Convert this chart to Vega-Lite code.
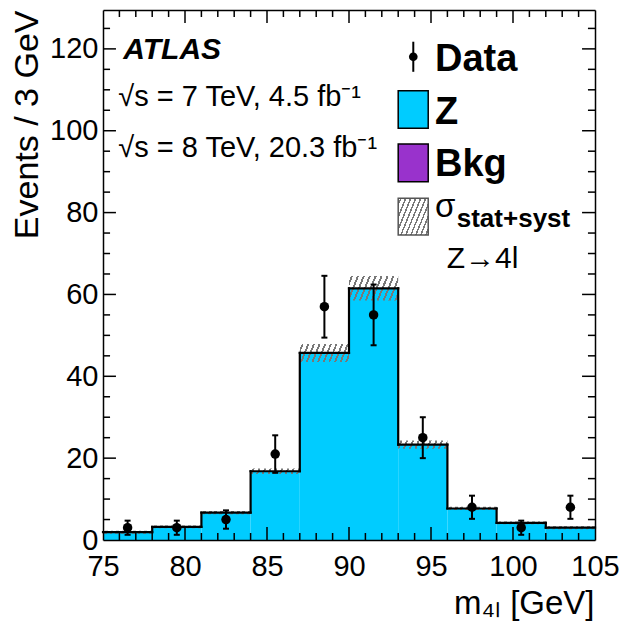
{
  "$schema": "https://vega.github.io/schema/vega-lite/v6.json",
  "autosize": {"type": "none"},
  "padding": {"left": 103, "top": 10, "right": 26, "bottom": 94},
  "width": 492,
  "height": 530,
  "config": {"font": "Liberation Sans", "view": {"stroke": null}},
  "datasets": {
    "hist": [
      {"lo": 75, "hi": 78, "z": 1.9, "ulo": 1.55, "uhi": 2.25},
      {"lo": 78, "hi": 81, "z": 3.2, "ulo": 2.85, "uhi": 3.55},
      {"lo": 81, "hi": 84, "z": 6.7, "ulo": 6.3, "uhi": 7.1},
      {"lo": 84, "hi": 87, "z": 16.8, "ulo": 16.1, "uhi": 17.5},
      {"lo": 87, "hi": 90, "z": 45.7, "ulo": 43.5, "uhi": 47.9},
      {"lo": 90, "hi": 93, "z": 61.5, "ulo": 58.5, "uhi": 64.5},
      {"lo": 93, "hi": 96, "z": 23.3, "ulo": 22.3, "uhi": 24.3},
      {"lo": 96, "hi": 99, "z": 7.7, "ulo": 7.3, "uhi": 8.1},
      {"lo": 99, "hi": 102, "z": 4.2, "ulo": 3.85, "uhi": 4.55},
      {"lo": 102, "hi": 105, "z": 3.0, "ulo": 2.65, "uhi": 3.35}
    ],
    "obs": [
      {"m": 76.5, "n": 3, "elo": 1.27, "ehi": 4.73},
      {"m": 79.5, "n": 3, "elo": 1.27, "ehi": 4.73},
      {"m": 82.5, "n": 5, "elo": 2.76, "ehi": 7.24},
      {"m": 85.5, "n": 21, "elo": 16.42, "ehi": 25.58},
      {"m": 88.5, "n": 57, "elo": 49.45, "ehi": 64.55},
      {"m": 91.5, "n": 55, "elo": 47.58, "ehi": 62.42},
      {"m": 94.5, "n": 25, "elo": 20.0, "ehi": 30.0},
      {"m": 97.5, "n": 8, "elo": 5.17, "ehi": 10.83},
      {"m": 100.5, "n": 3, "elo": 1.27, "ehi": 4.73},
      {"m": 103.5, "n": 8, "elo": 5.17, "ehi": 10.83}
    ],
    "xmajor": [{"v": 80}, {"v": 85}, {"v": 90}, {"v": 95}, {"v": 100}],
    "xminor": [{"v": 76}, {"v": 77}, {"v": 78}, {"v": 79}, {"v": 81}, {"v": 82}, {"v": 83}, {"v": 84}, {"v": 86}, {"v": 87}, {"v": 88}, {"v": 89},
               {"v": 91}, {"v": 92}, {"v": 93}, {"v": 94}, {"v": 96}, {"v": 97}, {"v": 98}, {"v": 99}, {"v": 101}, {"v": 102}, {"v": 103}, {"v": 104}],
    "ymajor": [{"v": 20}, {"v": 40}, {"v": 60}, {"v": 80}, {"v": 100}, {"v": 120}],
    "yminor": [{"v": 5}, {"v": 10}, {"v": 15}, {"v": 25}, {"v": 30}, {"v": 35}, {"v": 45}, {"v": 50}, {"v": 55}, {"v": 65}, {"v": 70}, {"v": 75},
               {"v": 85}, {"v": 90}, {"v": 95}, {"v": 105}, {"v": 110}, {"v": 115}, {"v": 125}]
  },
  "resolve": {"axis": {"x": "independent", "y": "independent"}},
  "layer": [
    {
      "data": {"name": "hist"},
      "mark": {"type": "rect", "fill": "#00CCFF", "strokeWidth": 0},
      "encoding": {
        "x": {"field": "lo", "type": "quantitative",
              "scale": {"domain": [75, 105], "nice": false, "zero": false},
              "axis": {"orient": "bottom", "values": [75, 80, 85, 90, 95, 100, 105], "ticks": false, "domain": true, "domainColor": "black", "domainWidth": 1.5, "grid": false,
                       "labelFontSize": 29, "labelPadding": 12, "labelColor": "black", "labelFlush": false, "labelOverlap": false,
                       "title": "m₄ₗ [GeV]", "titleFontSize": 33, "titleFontWeight": "normal", "titleColor": "black",
                       "titleAlign": "right", "titleX": 491, "titleY": 73, "titleBaseline": "alphabetic", "zindex": 3}},
        "x2": {"field": "hi"},
        "y": {"field": "z", "type": "quantitative",
              "scale": {"domain": [0, 129.5], "nice": false},
              "axis": {"orient": "left", "values": [0, 20, 40, 60, 80, 100, 120], "ticks": false, "domain": true, "domainColor": "black", "domainWidth": 1.5, "grid": false,
                       "labelFontSize": 29, "labelPadding": 5, "labelColor": "black", "labelFlush": false, "labelOverlap": false,
                       "title": "Events / 3 GeV", "titleFontSize": 34, "titleFontWeight": "normal", "titleColor": "black",
                       "titleAngle": -90, "titleAlign": "right", "titleX": -66, "titleY": 0, "titleBaseline": "alphabetic", "zindex": 3}},
        "y2": {"datum": 0}
      }
    },
    {
      "data": {"name": "hist"},
      "transform": [{"filter": "datum.lo < 84 || datum.lo >= 96"}],
      "mark": {"type": "rect", "strokeWidth": 0, "fill": {"gradient": "linear", "x1": 0, "y1": 0, "x2": 1.0216, "y2": 0.02245, "stops": [
        {"offset": 0, "color": "rgba(120,120,120,0)"},
        {"offset": 0.04, "color": "rgba(120,120,120,0)"}, {"offset": 0.04, "color": "#787878"}, {"offset": 0.095, "color": "#787878"}, {"offset": 0.095, "color": "rgba(120,120,120,0)"},
        {"offset": 0.151, "color": "rgba(120,120,120,0)"}, {"offset": 0.151, "color": "#787878"}, {"offset": 0.206, "color": "#787878"}, {"offset": 0.206, "color": "rgba(120,120,120,0)"},
        {"offset": 0.262, "color": "rgba(120,120,120,0)"}, {"offset": 0.262, "color": "#787878"}, {"offset": 0.317, "color": "#787878"}, {"offset": 0.317, "color": "rgba(120,120,120,0)"},
        {"offset": 0.373, "color": "rgba(120,120,120,0)"}, {"offset": 0.373, "color": "#787878"}, {"offset": 0.428, "color": "#787878"}, {"offset": 0.428, "color": "rgba(120,120,120,0)"},
        {"offset": 0.484, "color": "rgba(120,120,120,0)"}, {"offset": 0.484, "color": "#787878"}, {"offset": 0.539, "color": "#787878"}, {"offset": 0.539, "color": "rgba(120,120,120,0)"},
        {"offset": 0.596, "color": "rgba(120,120,120,0)"}, {"offset": 0.596, "color": "#787878"}, {"offset": 0.651, "color": "#787878"}, {"offset": 0.651, "color": "rgba(120,120,120,0)"},
        {"offset": 0.707, "color": "rgba(120,120,120,0)"}, {"offset": 0.707, "color": "#787878"}, {"offset": 0.762, "color": "#787878"}, {"offset": 0.762, "color": "rgba(120,120,120,0)"},
        {"offset": 0.818, "color": "rgba(120,120,120,0)"}, {"offset": 0.818, "color": "#787878"}, {"offset": 0.873, "color": "#787878"}, {"offset": 0.873, "color": "rgba(120,120,120,0)"},
        {"offset": 0.929, "color": "rgba(120,120,120,0)"}, {"offset": 0.929, "color": "#787878"}, {"offset": 0.984, "color": "#787878"}, {"offset": 0.984, "color": "rgba(120,120,120,0)"},
        {"offset": 1, "color": "rgba(120,120,120,0)"}]}},
      "encoding": {
        "x": {"field": "lo", "type": "quantitative", "axis": null},
        "x2": {"field": "hi"},
        "y": {"field": "ulo", "type": "quantitative", "axis": null},
        "y2": {"field": "uhi"}
      }
    },
    {
      "data": {"name": "hist"},
      "transform": [{"filter": "datum.lo == 84"}],
      "mark": {"type": "rect", "strokeWidth": 0, "fill": {"gradient": "linear", "x1": 0, "y1": 0, "x2": 1.043, "y2": 0.0483, "stops": [
        {"offset": 0, "color": "rgba(120,120,120,0)"},
        {"offset": 0.04, "color": "rgba(120,120,120,0)"}, {"offset": 0.04, "color": "#787878"}, {"offset": 0.08, "color": "#787878"}, {"offset": 0.08, "color": "rgba(120,120,120,0)"},
        {"offset": 0.151, "color": "rgba(120,120,120,0)"}, {"offset": 0.151, "color": "#787878"}, {"offset": 0.191, "color": "#787878"}, {"offset": 0.191, "color": "rgba(120,120,120,0)"},
        {"offset": 0.262, "color": "rgba(120,120,120,0)"}, {"offset": 0.262, "color": "#787878"}, {"offset": 0.302, "color": "#787878"}, {"offset": 0.302, "color": "rgba(120,120,120,0)"},
        {"offset": 0.373, "color": "rgba(120,120,120,0)"}, {"offset": 0.373, "color": "#787878"}, {"offset": 0.413, "color": "#787878"}, {"offset": 0.413, "color": "rgba(120,120,120,0)"},
        {"offset": 0.484, "color": "rgba(120,120,120,0)"}, {"offset": 0.484, "color": "#787878"}, {"offset": 0.524, "color": "#787878"}, {"offset": 0.524, "color": "rgba(120,120,120,0)"},
        {"offset": 0.596, "color": "rgba(120,120,120,0)"}, {"offset": 0.596, "color": "#787878"}, {"offset": 0.636, "color": "#787878"}, {"offset": 0.636, "color": "rgba(120,120,120,0)"},
        {"offset": 0.707, "color": "rgba(120,120,120,0)"}, {"offset": 0.707, "color": "#787878"}, {"offset": 0.747, "color": "#787878"}, {"offset": 0.747, "color": "rgba(120,120,120,0)"},
        {"offset": 0.818, "color": "rgba(120,120,120,0)"}, {"offset": 0.818, "color": "#787878"}, {"offset": 0.858, "color": "#787878"}, {"offset": 0.858, "color": "rgba(120,120,120,0)"},
        {"offset": 0.929, "color": "rgba(120,120,120,0)"}, {"offset": 0.929, "color": "#787878"}, {"offset": 0.969, "color": "#787878"}, {"offset": 0.969, "color": "rgba(120,120,120,0)"},
        {"offset": 1, "color": "rgba(120,120,120,0)"}]}},
      "encoding": {
        "x": {"field": "lo", "type": "quantitative", "axis": null},
        "x2": {"field": "hi"},
        "y": {"field": "ulo", "type": "quantitative", "axis": null},
        "y2": {"field": "uhi"}
      }
    },
    {
      "data": {"name": "hist"},
      "transform": [{"filter": "datum.lo == 87"}],
      "mark": {"type": "rect", "strokeWidth": 0, "fill": {"gradient": "linear", "x1": 0, "y1": 0, "x2": 1.121, "y2": 0.164, "stops": [
        {"offset": 0, "color": "rgba(120,120,120,0)"},
        {"offset": 0.035, "color": "rgba(120,120,120,0)"}, {"offset": 0.035, "color": "#787878"}, {"offset": 0.069, "color": "#787878"}, {"offset": 0.069, "color": "rgba(120,120,120,0)"},
        {"offset": 0.135, "color": "rgba(120,120,120,0)"}, {"offset": 0.135, "color": "#787878"}, {"offset": 0.169, "color": "#787878"}, {"offset": 0.169, "color": "rgba(120,120,120,0)"},
        {"offset": 0.235, "color": "rgba(120,120,120,0)"}, {"offset": 0.235, "color": "#787878"}, {"offset": 0.269, "color": "#787878"}, {"offset": 0.269, "color": "rgba(120,120,120,0)"},
        {"offset": 0.335, "color": "rgba(120,120,120,0)"}, {"offset": 0.335, "color": "#787878"}, {"offset": 0.369, "color": "#787878"}, {"offset": 0.369, "color": "rgba(120,120,120,0)"},
        {"offset": 0.435, "color": "rgba(120,120,120,0)"}, {"offset": 0.435, "color": "#787878"}, {"offset": 0.469, "color": "#787878"}, {"offset": 0.469, "color": "rgba(120,120,120,0)"},
        {"offset": 0.535, "color": "rgba(120,120,120,0)"}, {"offset": 0.535, "color": "#787878"}, {"offset": 0.569, "color": "#787878"}, {"offset": 0.569, "color": "rgba(120,120,120,0)"},
        {"offset": 0.635, "color": "rgba(120,120,120,0)"}, {"offset": 0.635, "color": "#787878"}, {"offset": 0.669, "color": "#787878"}, {"offset": 0.669, "color": "rgba(120,120,120,0)"},
        {"offset": 0.735, "color": "rgba(120,120,120,0)"}, {"offset": 0.735, "color": "#787878"}, {"offset": 0.769, "color": "#787878"}, {"offset": 0.769, "color": "rgba(120,120,120,0)"},
        {"offset": 0.835, "color": "rgba(120,120,120,0)"}, {"offset": 0.835, "color": "#787878"}, {"offset": 0.869, "color": "#787878"}, {"offset": 0.869, "color": "rgba(120,120,120,0)"},
        {"offset": 0.935, "color": "rgba(120,120,120,0)"}, {"offset": 0.935, "color": "#787878"}, {"offset": 0.969, "color": "#787878"}, {"offset": 0.969, "color": "rgba(120,120,120,0)"},
        {"offset": 1, "color": "rgba(120,120,120,0)"}]}},
      "encoding": {
        "x": {"field": "lo", "type": "quantitative", "axis": null},
        "x2": {"field": "hi"},
        "y": {"field": "ulo", "type": "quantitative", "axis": null},
        "y2": {"field": "uhi"}
      }
    },
    {
      "data": {"name": "hist"},
      "transform": [{"filter": "datum.lo == 90"}],
      "mark": {"type": "rect", "strokeWidth": 0, "fill": {"gradient": "linear", "x1": 0, "y1": 0, "x2": 1.154, "y2": 0.2308, "stops": [
        {"offset": 0, "color": "rgba(120,120,120,0)"},
        {"offset": 0.035, "color": "rgba(120,120,120,0)"}, {"offset": 0.035, "color": "#787878"}, {"offset": 0.069, "color": "#787878"}, {"offset": 0.069, "color": "rgba(120,120,120,0)"},
        {"offset": 0.135, "color": "rgba(120,120,120,0)"}, {"offset": 0.135, "color": "#787878"}, {"offset": 0.169, "color": "#787878"}, {"offset": 0.169, "color": "rgba(120,120,120,0)"},
        {"offset": 0.235, "color": "rgba(120,120,120,0)"}, {"offset": 0.235, "color": "#787878"}, {"offset": 0.269, "color": "#787878"}, {"offset": 0.269, "color": "rgba(120,120,120,0)"},
        {"offset": 0.335, "color": "rgba(120,120,120,0)"}, {"offset": 0.335, "color": "#787878"}, {"offset": 0.369, "color": "#787878"}, {"offset": 0.369, "color": "rgba(120,120,120,0)"},
        {"offset": 0.435, "color": "rgba(120,120,120,0)"}, {"offset": 0.435, "color": "#787878"}, {"offset": 0.469, "color": "#787878"}, {"offset": 0.469, "color": "rgba(120,120,120,0)"},
        {"offset": 0.535, "color": "rgba(120,120,120,0)"}, {"offset": 0.535, "color": "#787878"}, {"offset": 0.569, "color": "#787878"}, {"offset": 0.569, "color": "rgba(120,120,120,0)"},
        {"offset": 0.635, "color": "rgba(120,120,120,0)"}, {"offset": 0.635, "color": "#787878"}, {"offset": 0.669, "color": "#787878"}, {"offset": 0.669, "color": "rgba(120,120,120,0)"},
        {"offset": 0.735, "color": "rgba(120,120,120,0)"}, {"offset": 0.735, "color": "#787878"}, {"offset": 0.769, "color": "#787878"}, {"offset": 0.769, "color": "rgba(120,120,120,0)"},
        {"offset": 0.835, "color": "rgba(120,120,120,0)"}, {"offset": 0.835, "color": "#787878"}, {"offset": 0.869, "color": "#787878"}, {"offset": 0.869, "color": "rgba(120,120,120,0)"},
        {"offset": 0.935, "color": "rgba(120,120,120,0)"}, {"offset": 0.935, "color": "#787878"}, {"offset": 0.969, "color": "#787878"}, {"offset": 0.969, "color": "rgba(120,120,120,0)"},
        {"offset": 1, "color": "rgba(120,120,120,0)"}]}},
      "encoding": {
        "x": {"field": "lo", "type": "quantitative", "axis": null},
        "x2": {"field": "hi"},
        "y": {"field": "ulo", "type": "quantitative", "axis": null},
        "y2": {"field": "uhi"}
      }
    },
    {
      "data": {"name": "hist"},
      "transform": [{"filter": "datum.lo == 93"}],
      "mark": {"type": "rect", "strokeWidth": 0, "fill": {"gradient": "linear", "x1": 0, "y1": 0, "x2": 1.062, "y2": 0.0708, "stops": [
        {"offset": 0, "color": "rgba(120,120,120,0)"},
        {"offset": 0.04, "color": "rgba(120,120,120,0)"}, {"offset": 0.04, "color": "#787878"}, {"offset": 0.08, "color": "#787878"}, {"offset": 0.08, "color": "rgba(120,120,120,0)"},
        {"offset": 0.151, "color": "rgba(120,120,120,0)"}, {"offset": 0.151, "color": "#787878"}, {"offset": 0.191, "color": "#787878"}, {"offset": 0.191, "color": "rgba(120,120,120,0)"},
        {"offset": 0.262, "color": "rgba(120,120,120,0)"}, {"offset": 0.262, "color": "#787878"}, {"offset": 0.302, "color": "#787878"}, {"offset": 0.302, "color": "rgba(120,120,120,0)"},
        {"offset": 0.373, "color": "rgba(120,120,120,0)"}, {"offset": 0.373, "color": "#787878"}, {"offset": 0.413, "color": "#787878"}, {"offset": 0.413, "color": "rgba(120,120,120,0)"},
        {"offset": 0.484, "color": "rgba(120,120,120,0)"}, {"offset": 0.484, "color": "#787878"}, {"offset": 0.524, "color": "#787878"}, {"offset": 0.524, "color": "rgba(120,120,120,0)"},
        {"offset": 0.596, "color": "rgba(120,120,120,0)"}, {"offset": 0.596, "color": "#787878"}, {"offset": 0.636, "color": "#787878"}, {"offset": 0.636, "color": "rgba(120,120,120,0)"},
        {"offset": 0.707, "color": "rgba(120,120,120,0)"}, {"offset": 0.707, "color": "#787878"}, {"offset": 0.747, "color": "#787878"}, {"offset": 0.747, "color": "rgba(120,120,120,0)"},
        {"offset": 0.818, "color": "rgba(120,120,120,0)"}, {"offset": 0.818, "color": "#787878"}, {"offset": 0.858, "color": "#787878"}, {"offset": 0.858, "color": "rgba(120,120,120,0)"},
        {"offset": 0.929, "color": "rgba(120,120,120,0)"}, {"offset": 0.929, "color": "#787878"}, {"offset": 0.969, "color": "#787878"}, {"offset": 0.969, "color": "rgba(120,120,120,0)"},
        {"offset": 1, "color": "rgba(120,120,120,0)"}]}},
      "encoding": {
        "x": {"field": "lo", "type": "quantitative",
              "axis": {"orient": "top", "values": [], "labels": false, "ticks": false, "grid": false, "domain": true, "domainColor": "black", "domainWidth": 1.5, "title": null, "zindex": 3}},
        "x2": {"field": "hi"},
        "y": {"field": "ulo", "type": "quantitative",
              "axis": {"orient": "right", "values": [], "labels": false, "ticks": false, "grid": false, "domain": true, "domainColor": "black", "domainWidth": 1.5, "title": null, "zindex": 3}},
        "y2": {"field": "uhi"}
      }
    },
    {
      "data": {"name": "hist"},
      "mark": {"type": "rule", "color": "black", "strokeWidth": 2.2, "strokeCap": "square"},
      "encoding": {
        "x": {"field": "lo", "type": "quantitative", "axis": null},
        "x2": {"field": "hi"},
        "y": {"field": "z", "type": "quantitative", "axis": null}
      }
    },
    {
      "data": {"name": "hist"},
      "transform": [
        {"window": [{"op": "lag", "field": "z", "as": "prev"}], "sort": [{"field": "lo"}]},
        {"filter": "datum.prev != null"}
      ],
      "mark": {"type": "rule", "color": "black", "strokeWidth": 2.2, "strokeCap": "square"},
      "encoding": {
        "x": {"field": "lo", "type": "quantitative", "axis": null},
        "y": {"field": "prev", "type": "quantitative", "axis": null},
        "y2": {"field": "z"}
      }
    },
    {
      "data": {"name": "xmajor"},
      "mark": {"type": "rule", "color": "black", "strokeWidth": 1.5},
      "encoding": {"x": {"field": "v", "type": "quantitative", "axis": null}, "y": {"datum": 0, "type": "quantitative", "axis": null}, "y2": {"datum": 3.18}}
    },
    {
      "data": {"name": "xmajor"},
      "mark": {"type": "rule", "color": "black", "strokeWidth": 1.5},
      "encoding": {"x": {"field": "v", "type": "quantitative", "axis": null}, "y": {"datum": 129.5, "type": "quantitative", "axis": null}, "y2": {"datum": 126.32}}
    },
    {
      "data": {"name": "xminor"},
      "mark": {"type": "rule", "color": "black", "strokeWidth": 1.5},
      "encoding": {"x": {"field": "v", "type": "quantitative", "axis": null}, "y": {"datum": 0, "type": "quantitative", "axis": null}, "y2": {"datum": 1.71}}
    },
    {
      "data": {"name": "xminor"},
      "mark": {"type": "rule", "color": "black", "strokeWidth": 1.5},
      "encoding": {"x": {"field": "v", "type": "quantitative", "axis": null}, "y": {"datum": 129.5, "type": "quantitative", "axis": null}, "y2": {"datum": 127.79}}
    },
    {
      "data": {"name": "ymajor"},
      "mark": {"type": "rule", "color": "black", "strokeWidth": 1.5},
      "encoding": {"y": {"field": "v", "type": "quantitative", "axis": null}, "x": {"datum": 75, "type": "quantitative", "axis": null}, "x2": {"datum": 75.79}}
    },
    {
      "data": {"name": "ymajor"},
      "mark": {"type": "rule", "color": "black", "strokeWidth": 1.5},
      "encoding": {"y": {"field": "v", "type": "quantitative", "axis": null}, "x": {"datum": 105, "type": "quantitative", "axis": null}, "x2": {"datum": 104.21}}
    },
    {
      "data": {"name": "yminor"},
      "mark": {"type": "rule", "color": "black", "strokeWidth": 1.5},
      "encoding": {"y": {"field": "v", "type": "quantitative", "axis": null}, "x": {"datum": 75, "type": "quantitative", "axis": null}, "x2": {"datum": 75.43}}
    },
    {
      "data": {"name": "yminor"},
      "mark": {"type": "rule", "color": "black", "strokeWidth": 1.5},
      "encoding": {"y": {"field": "v", "type": "quantitative", "axis": null}, "x": {"datum": 105, "type": "quantitative", "axis": null}, "x2": {"datum": 104.57}}
    },
    {
      "data": {"name": "obs"},
      "mark": {"type": "rule", "color": "black", "strokeWidth": 2},
      "encoding": {
        "x": {"field": "m", "type": "quantitative", "axis": null},
        "y": {"field": "elo", "type": "quantitative", "axis": null},
        "y2": {"field": "ehi"}
      }
    },
    {
      "data": {"name": "obs"},
      "mark": {"type": "tick", "color": "black", "orient": "horizontal", "size": 6, "thickness": 2, "opacity": 1},
      "encoding": {
        "x": {"field": "m", "type": "quantitative", "axis": null},
        "y": {"field": "elo", "type": "quantitative", "axis": null}
      }
    },
    {
      "data": {"name": "obs"},
      "mark": {"type": "tick", "color": "black", "orient": "horizontal", "size": 6, "thickness": 2, "opacity": 1},
      "encoding": {
        "x": {"field": "m", "type": "quantitative", "axis": null},
        "y": {"field": "ehi", "type": "quantitative", "axis": null}
      }
    },
    {
      "data": {"name": "obs"},
      "mark": {"type": "point", "shape": "circle", "filled": true, "color": "black", "size": 90, "opacity": 1},
      "encoding": {
        "x": {"field": "m", "type": "quantitative", "axis": null},
        "y": {"field": "n", "type": "quantitative", "axis": null}
      }
    },
    {
      "data": {"values": [{}]},
      "mark": {"type": "text", "text": "ATLAS", "fontSize": 30, "fontWeight": "bold", "fontStyle": "italic", "align": "left", "baseline": "alphabetic", "color": "black"},
      "encoding": {"x": {"datum": 76.24, "type": "quantitative", "axis": null}, "y": {"datum": 117.45, "type": "quantitative", "axis": null}}
    },
    {
      "data": {"values": [{}]},
      "mark": {"type": "text", "text": "√s = 7 TeV, 4.5 fb⁻¹", "fontSize": 29, "align": "left", "baseline": "alphabetic", "color": "black"},
      "encoding": {"x": {"datum": 75.93, "type": "quantitative", "axis": null}, "y": {"datum": 106.0, "type": "quantitative", "axis": null}}
    },
    {
      "data": {"values": [{}]},
      "mark": {"type": "text", "text": "√s = 8 TeV, 20.3 fb⁻¹", "fontSize": 29, "align": "left", "baseline": "alphabetic", "color": "black"},
      "encoding": {"x": {"datum": 75.93, "type": "quantitative", "axis": null}, "y": {"datum": 93.65, "type": "quantitative", "axis": null}}
    },
    {
      "data": {"values": [{}]},
      "mark": {"type": "rule", "color": "black", "strokeWidth": 2},
      "encoding": {"x": {"datum": 93.92, "type": "quantitative", "axis": null}, "y": {"datum": 114.4, "type": "quantitative", "axis": null}, "y2": {"datum": 121.75}}
    },
    {
      "data": {"values": [{}]},
      "mark": {"type": "point", "shape": "circle", "filled": true, "color": "black", "size": 75, "opacity": 1},
      "encoding": {"x": {"datum": 93.92, "type": "quantitative", "axis": null}, "y": {"datum": 118.08, "type": "quantitative", "axis": null}}
    },
    {
      "data": {"values": [{}]},
      "mark": {"type": "rect", "fill": "#00CCFF", "stroke": "black", "strokeWidth": 1.5},
      "encoding": {"x": {"datum": 93.0, "type": "quantitative", "axis": null}, "x2": {"datum": 94.83}, "y": {"datum": 100.6, "type": "quantitative", "axis": null}, "y2": {"datum": 109.77}}
    },
    {
      "data": {"values": [{}]},
      "mark": {"type": "rect", "fill": "#9932CC", "stroke": "black", "strokeWidth": 1.5},
      "encoding": {"x": {"datum": 93.0, "type": "quantitative", "axis": null}, "x2": {"datum": 94.83}, "y": {"datum": 87.54, "type": "quantitative", "axis": null}, "y2": {"datum": 96.75}}
    },
    {
      "data": {"values": [{}]},
      "mark": {"type": "rect", "stroke": "#555555", "strokeWidth": 1.5, "fill": {"gradient": "linear", "x1": 0, "y1": 0, "x2": 1.2, "y2": 0.592, "stops": [
        {"offset": 0, "color": "rgba(120,120,120,0)"},
        {"offset": 0.04, "color": "rgba(120,120,120,0)"}, {"offset": 0.04, "color": "#787878"}, {"offset": 0.075, "color": "#787878"}, {"offset": 0.075, "color": "rgba(120,120,120,0)"},
        {"offset": 0.151, "color": "rgba(120,120,120,0)"}, {"offset": 0.151, "color": "#787878"}, {"offset": 0.186, "color": "#787878"}, {"offset": 0.186, "color": "rgba(120,120,120,0)"},
        {"offset": 0.262, "color": "rgba(120,120,120,0)"}, {"offset": 0.262, "color": "#787878"}, {"offset": 0.297, "color": "#787878"}, {"offset": 0.297, "color": "rgba(120,120,120,0)"},
        {"offset": 0.373, "color": "rgba(120,120,120,0)"}, {"offset": 0.373, "color": "#787878"}, {"offset": 0.408, "color": "#787878"}, {"offset": 0.408, "color": "rgba(120,120,120,0)"},
        {"offset": 0.484, "color": "rgba(120,120,120,0)"}, {"offset": 0.484, "color": "#787878"}, {"offset": 0.519, "color": "#787878"}, {"offset": 0.519, "color": "rgba(120,120,120,0)"},
        {"offset": 0.596, "color": "rgba(120,120,120,0)"}, {"offset": 0.596, "color": "#787878"}, {"offset": 0.631, "color": "#787878"}, {"offset": 0.631, "color": "rgba(120,120,120,0)"},
        {"offset": 0.707, "color": "rgba(120,120,120,0)"}, {"offset": 0.707, "color": "#787878"}, {"offset": 0.742, "color": "#787878"}, {"offset": 0.742, "color": "rgba(120,120,120,0)"},
        {"offset": 0.818, "color": "rgba(120,120,120,0)"}, {"offset": 0.818, "color": "#787878"}, {"offset": 0.853, "color": "#787878"}, {"offset": 0.853, "color": "rgba(120,120,120,0)"},
        {"offset": 0.929, "color": "rgba(120,120,120,0)"}, {"offset": 0.929, "color": "#787878"}, {"offset": 0.964, "color": "#787878"}, {"offset": 0.964, "color": "rgba(120,120,120,0)"},
        {"offset": 1, "color": "rgba(120,120,120,0)"}]}},
      "encoding": {"x": {"datum": 93.0, "type": "quantitative", "axis": null}, "x2": {"datum": 94.83}, "y": {"datum": 74.52, "type": "quantitative", "axis": null}, "y2": {"datum": 83.48}}
    },
    {
      "data": {"values": [{}]},
      "mark": {"type": "text", "text": "Data", "fontSize": 38, "fontWeight": "bold", "align": "left", "baseline": "alphabetic", "color": "black"},
      "encoding": {"x": {"datum": 95.24, "type": "quantitative", "axis": null}, "y": {"datum": 114.6, "type": "quantitative", "axis": null}}
    },
    {
      "data": {"values": [{}]},
      "mark": {"type": "text", "text": "Z", "fontSize": 38, "fontWeight": "bold", "align": "left", "baseline": "alphabetic", "color": "black"},
      "encoding": {"x": {"datum": 95.24, "type": "quantitative", "axis": null}, "y": {"datum": 101.64, "type": "quantitative", "axis": null}}
    },
    {
      "data": {"values": [{}]},
      "mark": {"type": "text", "text": "Bkg", "fontSize": 38, "fontWeight": "bold", "align": "left", "baseline": "alphabetic", "color": "black"},
      "encoding": {"x": {"datum": 95.24, "type": "quantitative", "axis": null}, "y": {"datum": 88.93, "type": "quantitative", "axis": null}}
    },
    {
      "data": {"values": [{}]},
      "mark": {"type": "text", "text": "σ", "fontSize": 33, "align": "left", "baseline": "alphabetic", "color": "black"},
      "encoding": {"x": {"datum": 95.24, "type": "quantitative", "axis": null}, "y": {"datum": 79.0, "type": "quantitative", "axis": null}}
    },
    {
      "data": {"values": [{}]},
      "mark": {"type": "text", "text": "stat+syst", "fontSize": 26, "fontWeight": "bold", "align": "left", "baseline": "alphabetic", "color": "black"},
      "encoding": {"x": {"datum": 96.57, "type": "quantitative", "axis": null}, "y": {"datum": 76.55, "type": "quantitative", "axis": null}}
    },
    {
      "data": {"values": [{}]},
      "mark": {"type": "text", "text": "Z→4l", "fontSize": 30, "align": "left", "baseline": "alphabetic", "color": "black"},
      "encoding": {"x": {"datum": 95.96, "type": "quantitative", "axis": null}, "y": {"datum": 66.38, "type": "quantitative", "axis": null}}
    }
  ]
}
